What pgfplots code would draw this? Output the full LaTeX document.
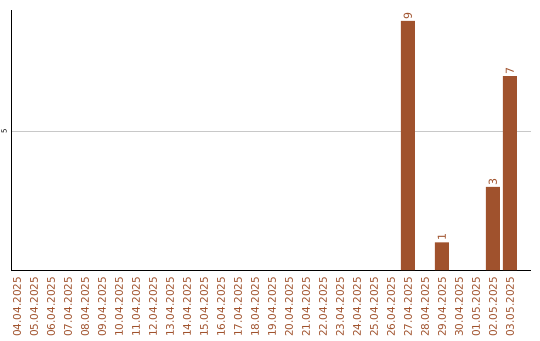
\documentclass[border=0pt]{standalone}
\usepackage{pgfplots}
\pgfplotsset{compat=1.18}
\usepackage{fontspec}
\setmainfont{DejaVu Sans}
\definecolor{barbrown}{HTML}{A0522D}
\definecolor{gridgray}{HTML}{C8C8C8}
\begin{document}
\begin{tikzpicture}[x=1pt,y=1pt]
\begin{axis}[
  at={(0,0)}, anchor=south west,
  scale only axis, width=520pt, height=260pt,
  xmin=-0.35, xmax=30.24, ymin=0, ymax=9.39,
  axis x line*=bottom, axis y line*=left,
  axis line style={black, line width=0.9pt, -},
  major tick length=0pt,
  ytick={5}, ymajorgrids, grid style={gridgray, line width=0.7pt},
  xtick={0,...,29},
  xticklabels={04.04.2025,05.04.2025,06.04.2025,07.04.2025,08.04.2025,09.04.2025,10.04.2025,11.04.2025,12.04.2025,13.04.2025,14.04.2025,15.04.2025,16.04.2025,17.04.2025,18.04.2025,19.04.2025,20.04.2025,21.04.2025,22.04.2025,23.04.2025,24.04.2025,25.04.2025,26.04.2025,27.04.2025,28.04.2025,29.04.2025,30.04.2025,01.05.2025,02.05.2025,03.05.2025},
  xticklabel style={yshift=-6.5pt, rotate=90, anchor=east, text=barbrown, font=\fontsize{10.5}{10.5}\selectfont, inner sep=0pt},
  yticklabel style={xshift=-4pt, rotate=90, anchor=south, font=\fontsize{7}{7}\selectfont, inner sep=0pt},
  /pgf/number format/assume math mode=true,
]
\addplot[ybar, bar width=14pt, fill=barbrown, draw=none,
  nodes near coords,
  nodes near coords style={rotate=90, anchor=west, text=barbrown, font=\fontsize{11}{11}\selectfont, inner sep=1.5pt}]
  coordinates {(23,9) (25,1) (28,3) (29,7)};
\end{axis}
\pgfresetboundingbox
\path (-11,-70) rectangle (529,270);
\end{tikzpicture}
\end{document}
